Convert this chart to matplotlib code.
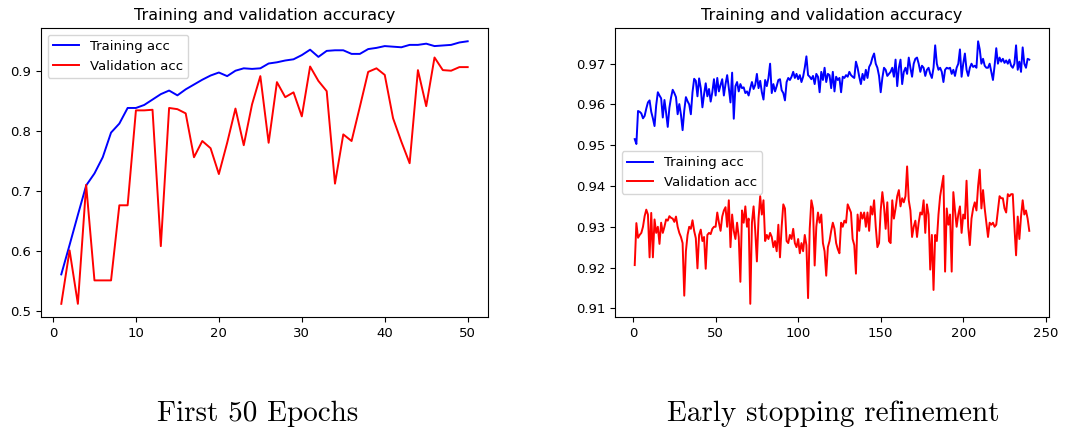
import numpy as np
import matplotlib
matplotlib.use('Agg')
from matplotlib import pyplot as plt

# First run: 50 epochs
epochs_a = np.arange(1, 51)
train_a = [0.561, 0.610, 0.660, 0.709, 0.729, 0.756, 0.797, 0.812, 0.838, 0.838,
           0.843, 0.852, 0.861, 0.867, 0.859, 0.869, 0.877, 0.885, 0.892, 0.897,
           0.891, 0.900, 0.904, 0.903, 0.904, 0.912, 0.914, 0.917, 0.919, 0.926,
           0.935, 0.923, 0.933, 0.934, 0.934, 0.928, 0.928, 0.936, 0.938, 0.941,
           0.940, 0.939, 0.943, 0.943, 0.945, 0.941, 0.942, 0.943, 0.947, 0.949]
val_a = [0.512, 0.601, 0.512, 0.710, 0.551, 0.551, 0.551, 0.676, 0.676, 0.834,
         0.834, 0.835, 0.608, 0.838, 0.836, 0.829, 0.756, 0.783, 0.771, 0.728,
         0.780, 0.837, 0.776, 0.844, 0.891, 0.780, 0.881, 0.856, 0.864, 0.824,
         0.907, 0.883, 0.866, 0.712, 0.794, 0.783, 0.840, 0.898, 0.904, 0.893,
         0.821, 0.782, 0.746, 0.901, 0.841, 0.922, 0.901, 0.900, 0.906, 0.906]

# Refinement run: 240 epochs
epochs_b = np.arange(1, 241)
train_b = [
    .9515, .9503, .9584, .9582, .9578, .9566, .9572, .9590, .9605, .9610,
    .9582, .9566, .9547, .9598, .9630, .9622, .9615, .9568, .9611, .9580,
    .9545, .9592, .9617, .9636, .9628, .9618, .9576, .9601, .9575, .9537,
    .9585, .9618, .9608, .9600, .9576, .9630, .9663, .9658, .9620, .9664,
    .9640, .9593, .9625, .9652, .9620, .9638, .9607, .9630, .9662, .9622,
    .9665, .9632, .9648, .9662, .9622, .9650, .9672, .9640, .9605, .9678,
    .9565, .9645, .9655, .9632, .9650, .9640, .9642, .9628, .9632, .9622,
    .9640, .9655, .9638, .9648, .9675, .9640, .9658, .9630, .9612, .9660,
    .9645, .9665, .9700, .9628, .9650, .9632, .9645, .9660, .9662, .9635,
    .9628, .9610, .9655, .9665, .9660, .9668, .9680, .9665, .9675, .9662,
    .9672, .9655, .9668, .9690, .9718, .9672, .9668, .9662, .9670, .9650,
    .9675, .9668, .9630, .9680, .9660, .9690, .9655, .9675, .9672, .9640,
    .9680, .9632, .9668, .9660, .9665, .9630, .9668, .9665, .9672, .9668,
    .9680, .9672, .9668, .9665, .9705, .9690, .9668, .9650, .9675, .9660,
    .9685, .9665, .9692, .9700, .9715, .9725, .9700, .9690, .9670, .9630,
    .9665, .9690, .9685, .9670, .9675, .9680, .9690, .9668, .9710, .9645,
    .9690, .9710, .9650, .9680, .9690, .9675, .9715, .9690, .9668, .9700,
    .9712, .9715, .9700, .9680, .9695, .9690, .9670, .9685, .9690, .9675,
    .9665, .9690, .9745, .9700, .9685, .9690, .9680, .9655, .9685, .9690,
    .9688, .9690, .9675, .9685, .9670, .9690, .9700, .9735, .9668, .9700,
    .9725, .9685, .9670, .9690, .9700, .9692, .9695, .9690, .9755, .9735,
    .9700, .9712, .9695, .9690, .9690, .9700, .9680, .9660, .9695, .9738,
    .9700, .9715, .9705, .9712, .9702, .9708, .9700, .9710, .9695, .9690,
    .9700, .9745, .9685, .9705, .9680, .9740, .9700, .9690, .9712, .9710]
val_b = [
    .9206, .9309, .9273, .9280, .9285, .9300, .9326, .9342, .9330, .9225,
    .9334, .9225, .9318, .9285, .9300, .9258, .9310, .9285, .9300, .9318,
    .9315, .9326, .9322, .9320, .9312, .9325, .9300, .9285, .9275, .9260,
    .9131, .9240, .9280, .9300, .9295, .9316, .9290, .9272, .9198, .9280,
    .9293, .9265, .9275, .9197, .9280, .9285, .9282, .9295, .9300, .9300,
    .9335, .9310, .9290, .9325, .9340, .9348, .9300, .9365, .9250, .9330,
    .9290, .9270, .9310, .9275, .9165, .9340, .9310, .9350, .9300, .9320,
    .9111, .9310, .9350, .9290, .9215, .9320, .9375, .9330, .9365, .9265,
    .9280, .9270, .9285, .9275, .9250, .9265, .9240, .9305, .9225, .9300,
    .9355, .9345, .9265, .9260, .9280, .9270, .9295, .9260, .9250, .9270,
    .9235, .9260, .9240, .9280, .9255, .9125, .9295, .9365, .9345, .9205,
    .9300, .9335, .9310, .9330, .9260, .9240, .9180, .9250, .9265, .9290,
    .9310, .9295, .9260, .9245, .9235, .9310, .9300, .9315, .9310, .9355,
    .9345, .9335, .9270, .9255, .9185, .9330, .9290, .9335, .9320, .9335,
    .9300, .9335, .9290, .9350, .9330, .9365, .9300, .9250, .9260, .9340,
    .9385, .9350, .9295, .9360, .9265, .9260, .9365, .9320, .9345, .9375,
    .9390, .9350, .9370, .9360, .9375, .9448, .9365, .9340, .9275, .9300,
    .9315, .9275, .9310, .9335, .9330, .9365, .9285, .9355, .9330, .9195,
    .9280, .9145, .9280, .9265, .9330, .9375, .9400, .9425, .9190, .9345,
    .9305, .9330, .9190, .9385, .9340, .9300, .9330, .9350, .9285, .9330,
    .9320, .9413, .9300, .9255, .9320, .9345, .9360, .9340, .9400, .9440,
    .9345, .9390, .9345, .9310, .9275, .9310, .9305, .9310, .9300, .9305,
    .9340, .9375, .9370, .9370, .9345, .9335, .9380, .9375, .9380, .9380,
    .9300, .9230, .9325, .9270, .9325, .9365, .9330, .9340, .9320, .9290]

fig = plt.figure(figsize=(10.78, 4.33), dpi=100)
ax1 = fig.add_axes([0.038, 0.268, 0.4147, 0.667])
ax2 = fig.add_axes([0.5705, 0.268, 0.4026, 0.667])

ax1.plot(epochs_a, train_a, 'b', label='Training acc', lw=1.4)
ax1.plot(epochs_a, val_a, 'r', label='Validation acc', lw=1.4)
ax1.set_title('Training and validation accuracy', fontsize=11.5)
ax1.legend(loc='upper left', fontsize=9.5)

ax2.plot(epochs_b, train_b, 'b', label='Training acc', lw=1.4)
ax2.plot(epochs_b, val_b, 'r', label='Validation acc', lw=1.4)
ax2.set_title('Training and validation accuracy', fontsize=11.5)
ax2.legend(loc='center left', fontsize=9.5)
ax2.set_xticks([0, 50, 100, 150, 200, 250])

for ax in (ax1, ax2):
    ax.tick_params(labelsize=9.5)

fig.text(0.239, 0.045, 'First 50 Epochs', ha='center', va='center',
         family='cmr10', fontsize=21)
fig.text(0.773, 0.045, 'Early stopping refinement', ha='center', va='center',
         family='cmr10', fontsize=21)

plt.savefig('out.png', dpi=100)
